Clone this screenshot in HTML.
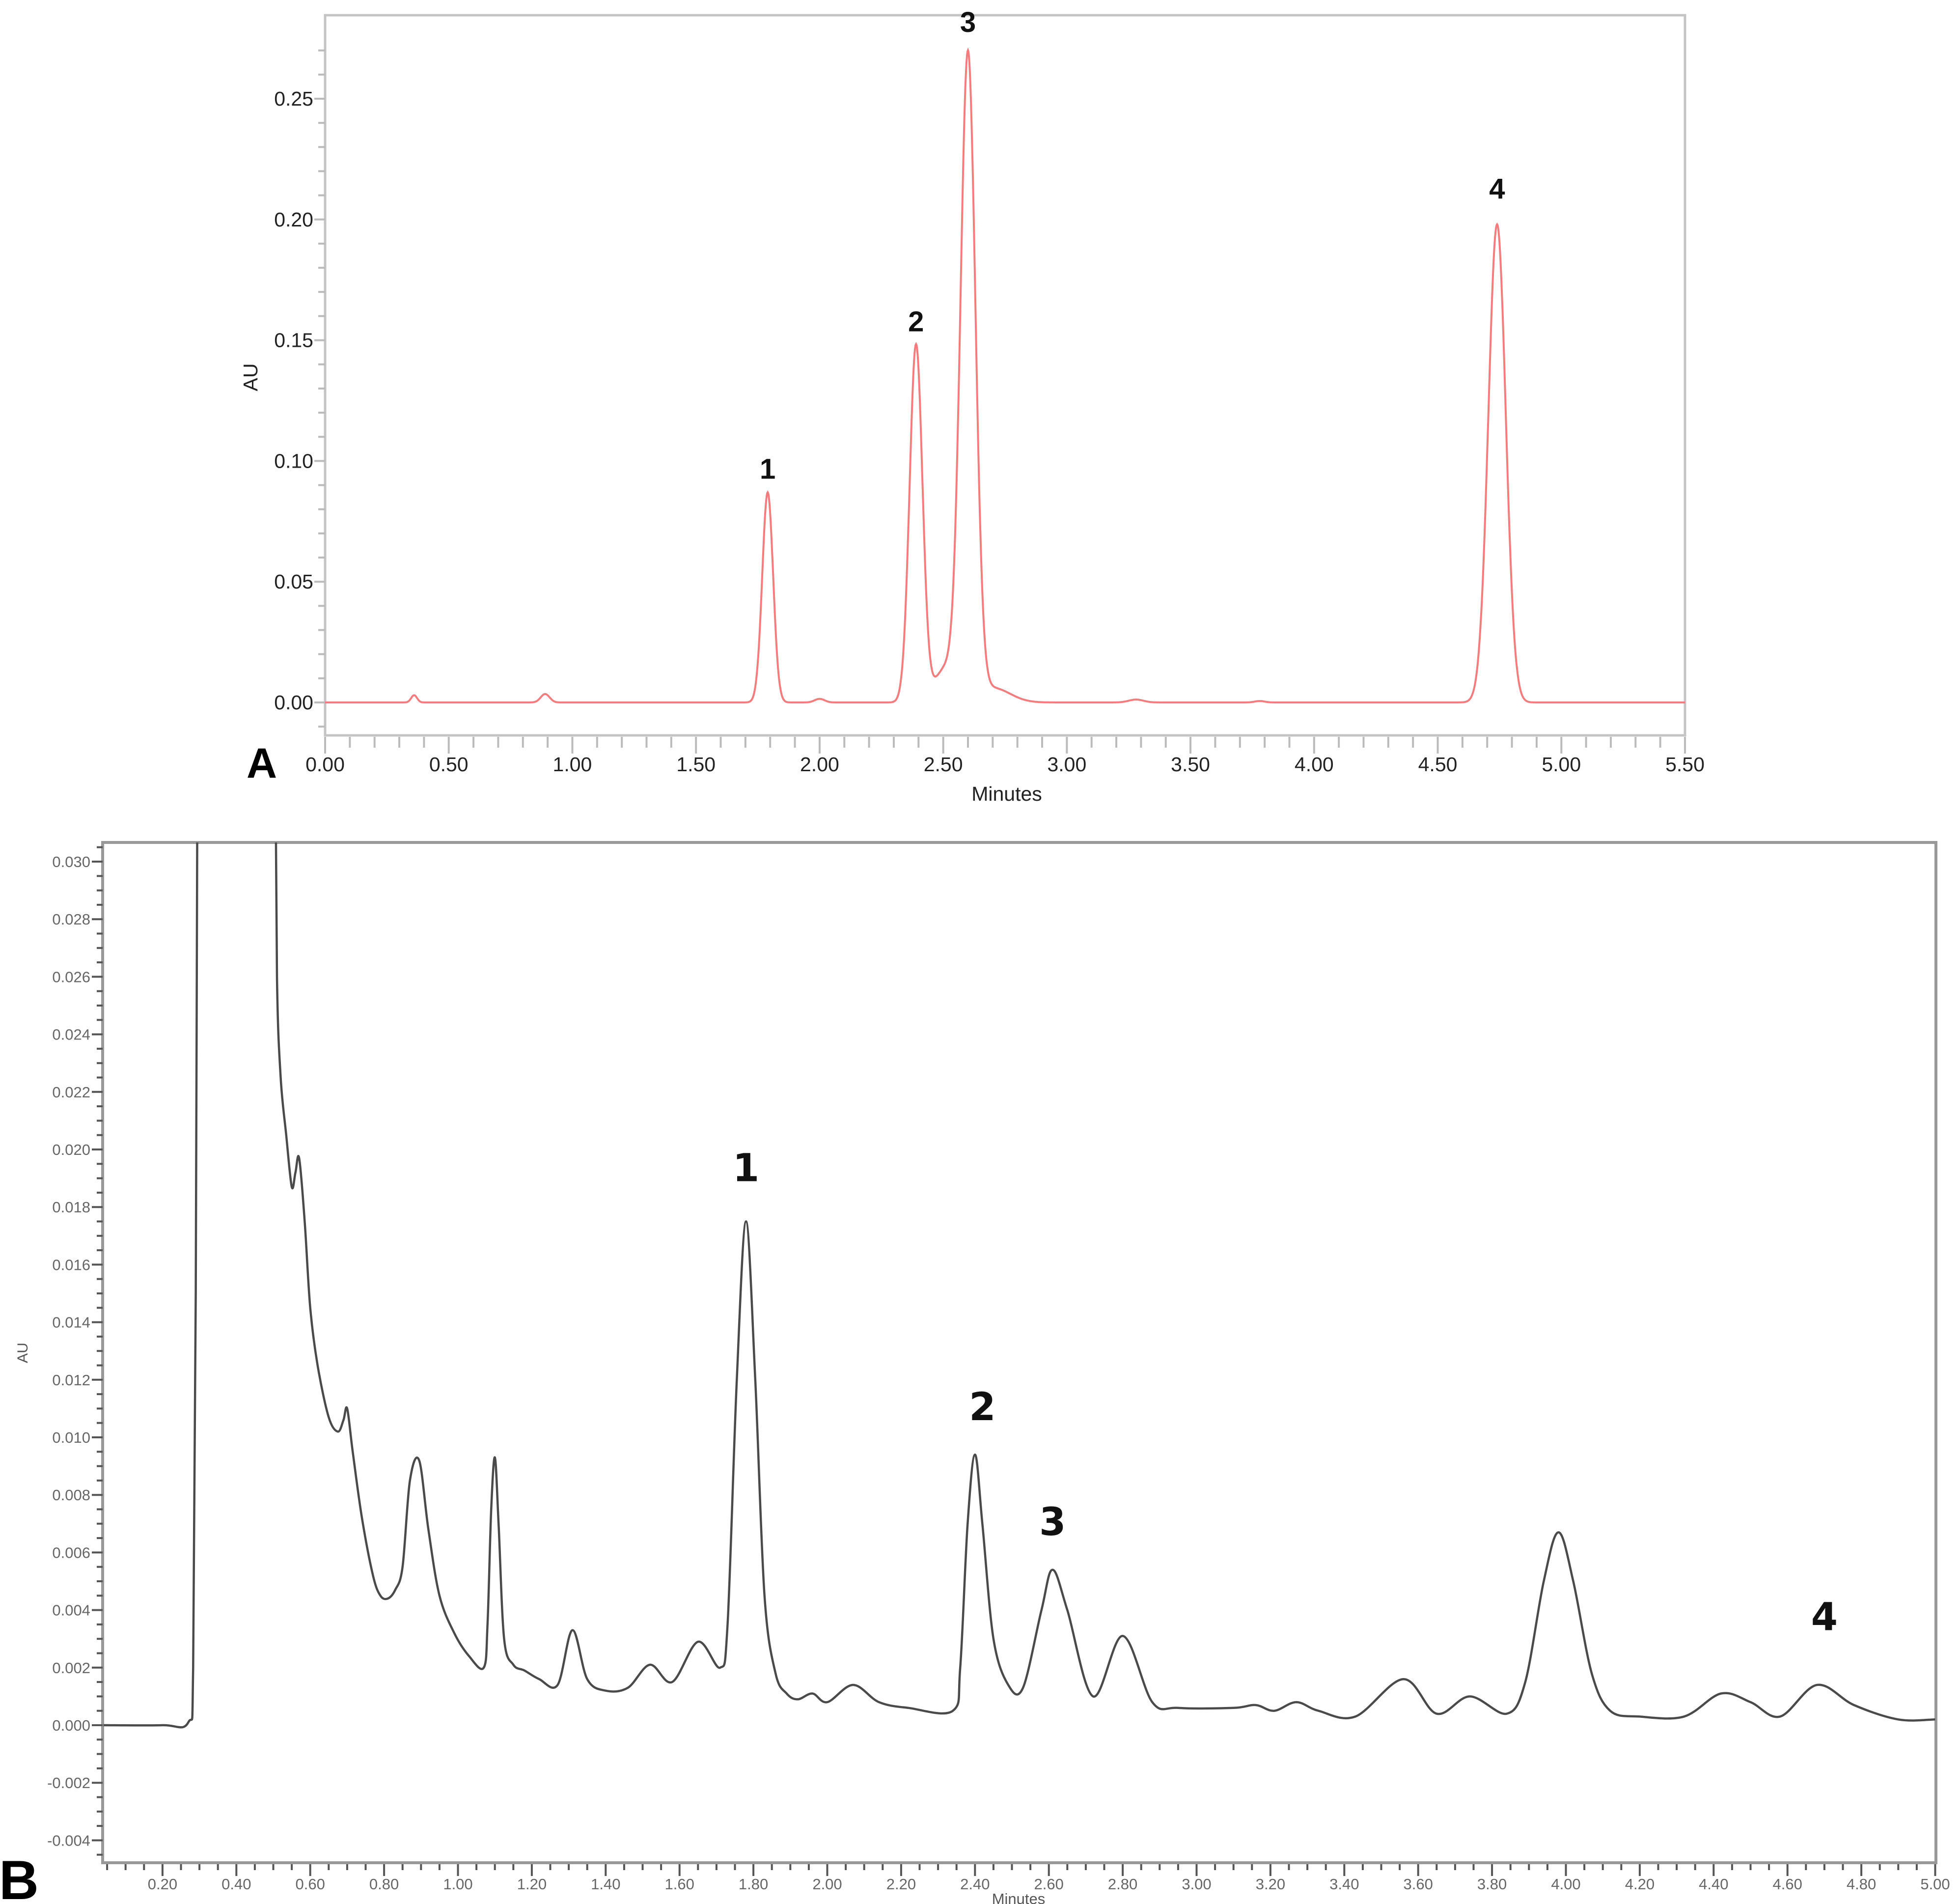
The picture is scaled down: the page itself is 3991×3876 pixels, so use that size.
<!DOCTYPE html>
<html><head><meta charset="utf-8"><style>
html,body{margin:0;padding:0;background:#fff;}
svg{display:block;font-family:"Liberation Sans",Arial,sans-serif;}
</style></head><body>
<svg id="chart" width="3991" height="3876" viewBox="0 0 3991 3876" xmlns="http://www.w3.org/2000/svg">
<defs>
<clipPath id="clipA"><rect x="662" y="31" width="2769" height="1466"/></clipPath>
<clipPath id="clipB"><rect x="209" y="1715" width="3733" height="2077"/></clipPath>
</defs>
<g id="panelA"></g>
<g id="panelB"></g>
</svg>
<script>
// ---- Panel A data (retention time min, height AU, width sigma min) ----
const aPeakTimes   = [0.36, 0.89, 1.79, 2.00, 2.39, 2.51, 2.60, 2.70, 3.28, 3.78, 4.74];
const aPeakHeights = [0.003, 0.0035, 0.087, 0.0015, 0.148, 0.014, 0.266, 0.006, 0.0012, 0.0006, 0.198];
const aPeakWidths  = [0.012, 0.018, 0.022, 0.02, 0.026, 0.045, 0.03, 0.07, 0.03, 0.02, 0.035];
const aYTicks = [0.00, 0.05, 0.10, 0.15, 0.20, 0.25];
const aXTicks = [0.00, 0.50, 1.00, 1.50, 2.00, 2.50, 3.00, 3.50, 4.00, 4.50, 5.00, 5.50];
const aLabels = ["1", "2", "3", "4"];
const aLabelTimes = [1.79, 2.39, 2.60, 4.74];
const aLabelHeights = [0.087, 0.148, 0.272, 0.203];

// ---- Panel B data ----
const bTimes = [0.04,0.20,0.27,0.283,0.29,0.295,0.30,0.50,0.505,0.51,0.52,0.535,0.55,0.56,0.57,0.585,0.60,0.62,0.65,0.675,0.69,0.70,0.715,0.74,0.77,0.79,0.81,0.83,0.85,0.87,0.895,0.92,0.95,0.99,1.03,1.07,1.08,1.09,1.10,1.11,1.125,1.15,1.18,1.22,1.27,1.31,1.35,1.40,1.46,1.52,1.58,1.65,1.71,1.73,1.755,1.78,1.805,1.83,1.86,1.89,1.92,1.96,2.00,2.07,2.14,2.22,2.34,2.36,2.38,2.40,2.42,2.45,2.49,2.53,2.58,2.61,2.65,2.72,2.80,2.88,2.95,3.10,3.16,3.21,3.27,3.33,3.43,3.56,3.65,3.74,3.84,3.89,3.94,3.98,4.02,4.07,4.12,4.20,4.32,4.42,4.50,4.58,4.68,4.78,4.90,5.00];
const bValues = [0.0000,0.0000,0.0001,0.002,0.015,0.035,0.045,0.045,0.035,0.026,0.0225,0.0205,0.0187,0.0192,0.0197,0.0175,0.0145,0.0125,0.0107,0.0102,0.0106,0.0110,0.0095,0.0072,0.0052,0.0045,0.0044,0.0047,0.0055,0.0085,0.0092,0.0068,0.0045,0.0032,0.0024,0.0020,0.0035,0.0075,0.0093,0.0070,0.0030,0.0021,0.0019,0.0016,0.0014,0.0033,0.0016,0.0012,0.0013,0.0021,0.0015,0.0029,0.0020,0.0035,0.0120,0.0175,0.0120,0.0045,0.0018,0.0011,0.0009,0.0011,0.0008,0.0014,0.0008,0.0006,0.0005,0.0020,0.0070,0.0094,0.0070,0.0030,0.0014,0.0013,0.0040,0.0054,0.0040,0.0010,0.0031,0.0008,0.0006,0.0006,0.0007,0.0005,0.0008,0.0005,0.0003,0.0016,0.0004,0.0010,0.0004,0.0015,0.0050,0.0067,0.0050,0.0018,0.0005,0.0003,0.0003,0.0011,0.0008,0.0003,0.0014,0.0007,0.0002,0.0002];
const bYTicks = [-0.004,-0.002,0.000,0.002,0.004,0.006,0.008,0.010,0.012,0.014,0.016,0.018,0.020,0.022,0.024,0.026,0.028,0.030];
const bXTicks = [0.20,0.40,0.60,0.80,1.00,1.20,1.40,1.60,1.80,2.00,2.20,2.40,2.60,2.80,3.00,3.20,3.40,3.60,3.80,4.00,4.20,4.40,4.60,4.80,5.00];
const bLabels = ["1", "2", "3", "4"];
const bLabelTimes = [1.78, 2.42, 2.61, 4.70];
const bLabelValues = [0.0189, 0.0106, 0.0066, 0.0033];

const NS = "http://www.w3.org/2000/svg";
function mk(parent, tag, attrs, text){
  const e = document.createElementNS(NS, tag);
  for (const k in attrs) e.setAttribute(k, attrs[k]);
  if (text !== undefined) e.textContent = text;
  parent.appendChild(e);
  return e;
}
const axA = { x0:662, x1:3431, t0:0, t1:5.5, y0:1430, y1:201, v0:0, v1:0.25 };
function xA(t){ return axA.x0 + (t - axA.t0) / (axA.t1 - axA.t0) * (axA.x1 - axA.x0); }
function yA(v){ return axA.y0 + (v - axA.v0) / (axA.v1 - axA.v0) * (axA.y1 - axA.y0); }
function xB(t){ return 180.5 + t * 752; }
function yB(v){ return 3512 - v / 0.002 * 117.2; }

// ---------- Panel A ----------
const gA = document.getElementById('panelA');
const frameA = mk(gA, 'rect', {x:662, y:31, width:2769, height:1466, fill:'none', stroke:'#c4c4c4', 'stroke-width':5});


for (let v = -0.01; v <= 0.2701; v += 0.01) {
  const vv = Math.round(v*100)/100;
  const major = Math.abs(vv*20 - Math.round(vv*20)) < 1e-6;
  const t = mk(gA, 'line', {x1:662 - (major?22:14), x2:662, y1:yA(vv), y2:yA(vv), stroke:'#bbb', 'stroke-width':4});
  
  
}
aYTicks.forEach(v => {
  const t = mk(gA, 'text', {x:638, y:yA(v)+14, 'text-anchor':'end', 'font-size':41, fill:'#222'}, v.toFixed(2));
  
  
});
for (let i = 0; i <= 55; i++) {
  const tt = i / 10;
  const major = i % 5 === 0;
  const t = mk(gA, 'line', {x1:xA(tt), x2:xA(tt), y1:1500, y2:1500 + (major?34:22), stroke:'#bbb', 'stroke-width':4});
  
  
}
aXTicks.forEach(v => {
  const t = mk(gA, 'text', {x:xA(v), y:1570, 'text-anchor':'middle', 'font-size':41, fill:'#222'}, v.toFixed(2));
  
  
});
const axTitleA = mk(gA, 'text', {x:2050, y:1630, 'text-anchor':'middle', 'font-size':41, fill:'#222'}, 'Minutes');


const yTitleA = mk(gA, 'text', {x:0, y:0, transform:'translate(524,768) rotate(-90)', 'text-anchor':'middle', 'font-size':41, fill:'#222'}, 'AU');


const panA = mk(gA, 'text', {x:502, y:1583, 'font-size':86, 'font-weight':'bold', fill:'#000'}, 'A');


let dA = '';
for (let t = 0.0; t <= 5.5; t += 0.002) {
  let v = 0;
  for (let k = 0; k < aPeakTimes.length; k++) {
    const z = (t - aPeakTimes[k]) / aPeakWidths[k];
    v += aPeakHeights[k] * Math.exp(-0.5 * z * z);
  }
  dA += (dA ? 'L' : 'M') + xA(t).toFixed(1) + ',' + yA(v).toFixed(1);
}
const traceA = mk(gA, 'path', {d:dA, fill:'none', stroke:'#f47c7c', 'stroke-width':4, 'clip-path':'url(#clipA)'});


aLabels.forEach((s, i) => {
  const t = mk(gA, 'text', {x:xA(aLabelTimes[i]), y:yA(aLabelHeights[i]) - 28, 'text-anchor':'middle', 'font-size':58, 'font-weight':'bold', fill:'#111'}, s);
  
  
});

// ---------- Panel B ----------
const gB = document.getElementById('panelB');
const frameB = mk(gB, 'rect', {x:209, y:1715, width:3733, height:2077, fill:'none', stroke:'#999', 'stroke-width':6});


for (let i = -9; i <= 61; i++) {
  const v = i * 0.0005;
  const y = yB(v);
  if (y < 1715 || y > 3792) continue;
  const major = i % 4 === 0;
  const t = mk(gB, 'line', {x1:209 - (major?22:12), x2:209, y1:y, y2:y, stroke:'#555', 'stroke-width':4});
  
  
}
bYTicks.forEach(v => {
  const t = mk(gB, 'text', {x:184, y:yB(v)+11, 'text-anchor':'end', 'font-size':31, fill:'#666'}, v.toFixed(3));
  
  
});
for (let i = 1; i <= 100; i++) {
  const tt = i * 0.05;
  const x = xB(tt);
  if (x < 209 || x > 3942) continue;
  const major = i % 4 === 0;
  const t = mk(gB, 'line', {x1:x, x2:x, y1:3795, y2:3795 + (major?24:12), stroke:'#555', 'stroke-width':4});
  
  
}
bXTicks.forEach(v => {
  const t = mk(gB, 'text', {x:xB(v), y:3846, 'text-anchor':'middle', 'font-size':31, fill:'#666'}, v.toFixed(2));
  
  
});
const axTitleB = mk(gB, 'text', {x:2074, y:3876, 'text-anchor':'middle', 'font-size':31, fill:'#555'}, 'Minutes');


const yTitleB = mk(gB, 'text', {x:0, y:0, transform:'translate(56,2754) rotate(-90)', 'text-anchor':'middle', 'font-size':30, fill:'#555'}, 'AU');


const panB = mk(gB, 'text', {x:-2, y:3866, 'font-size':112, 'font-weight':'bold', fill:'#000'}, 'B');


const pts = bTimes.map((t, i) => [xB(t), yB(bValues[i])]);
let dB = 'M' + pts[0][0].toFixed(1) + ',' + pts[0][1].toFixed(1);
for (let i = 0; i < pts.length - 1; i++) {
  const p0 = pts[Math.max(0, i-1)], p1 = pts[i], p2 = pts[i+1], p3 = pts[Math.min(pts.length-1, i+2)];
  const c1x = p1[0] + (p2[0]-p0[0])/6, c1y = p1[1] + (p2[1]-p0[1])/6;
  const c2x = p2[0] - (p3[0]-p1[0])/6, c2y = p2[1] - (p3[1]-p1[1])/6;
  dB += 'C' + c1x.toFixed(1)+','+c1y.toFixed(1)+' '+c2x.toFixed(1)+','+c2y.toFixed(1)+' '+p2[0].toFixed(1)+','+p2[1].toFixed(1);
}
const traceB = mk(gB, 'path', {d:dB, fill:'none', stroke:'#4a4a4a', 'stroke-width':4.5, 'clip-path':'url(#clipB)'});


bLabels.forEach((s, i) => {
  const t = mk(gB, 'text', {x:xB(bLabelTimes[i]), y:yB(bLabelValues[i]), 'text-anchor':'middle', 'font-size':78, 'font-weight':'bold', fill:'#111', 'font-family':'"DejaVu Sans", sans-serif'}, s);
  
  
});
</script>
</body></html>
